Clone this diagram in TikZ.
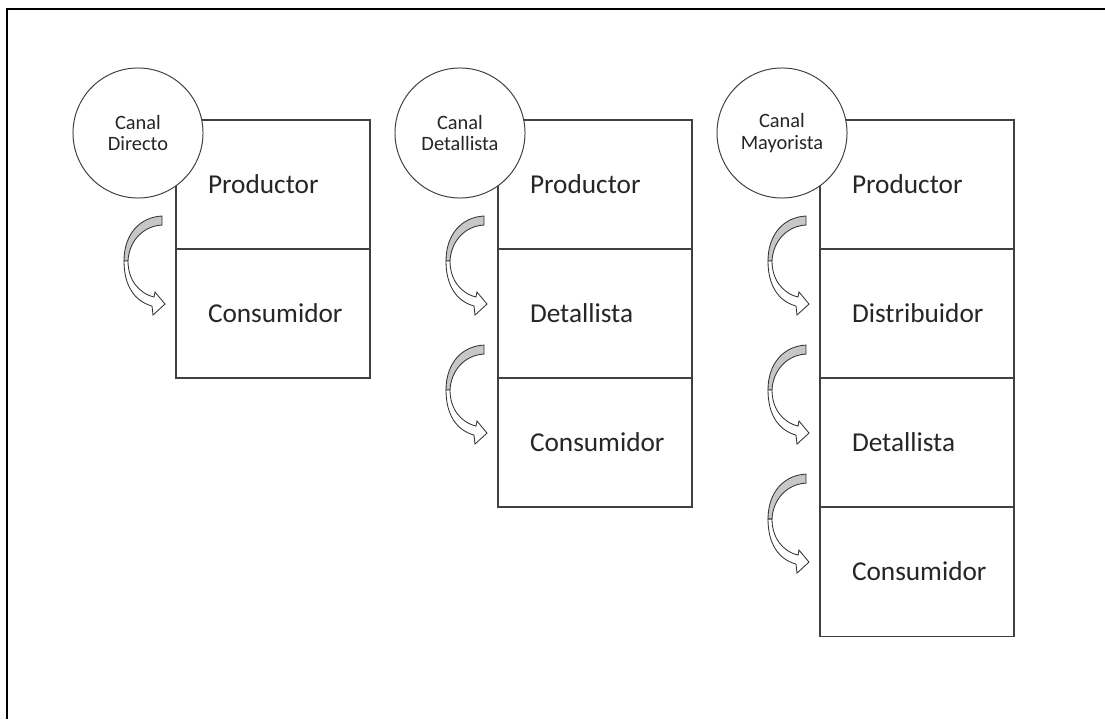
\documentclass[tikz,border=0pt]{standalone}
\usepackage{fontspec}
\setmainfont{Carlito}
\usetikzlibrary{positioning}

\begin{document}
\begin{tikzpicture}[x=0.025cm, y=0.025cm,
		celda/.style={draw=black!75, line width=0.9pt, fill=white, text=black!85, outer sep=0pt,
			minimum width=4.85cm, minimum height=3.225cm, text width=3.25cm, inner xsep=0.8cm,
			align=left, font=\fontsize{19.4}{23}\selectfont},
		canal/.style={circle, draw=black!75, line width=0.7pt, fill=white, text=black!85,
			minimum size=3.25cm, inner sep=0pt, align=center, font=\fontsize{14.5}{15.5}\selectfont},
		pics/flecha/.style={code={
			\draw[line width=0.6pt, draw=black!80, fill=black!22] (-14, 33) .. controls (-36, 32) and (-52, 15) .. (-52, -12)
			to (-48, -12) .. controls (-47, 8) and (-33, 23) .. (-14, 24) to cycle;
			\draw[line width=0.6pt, draw=black!80, fill=white] (-52, -12) .. controls (-52, -36) and (-42, -52) .. (-24, -57)
			to (-23, -66) to (-11, -55) to (-21, -43) to (-22, -48)
			.. controls (-38, -44) and (-48, -30) .. (-48, -12) to cycle;
		}}]
		\useasboundingbox (0, 0) rectangle (1105, 719);
		\draw[line width=1.4pt] (7, 0) to (7, 710) to (1105, 710);

		% canal directo
		\node[celda, anchor=north west] (dir1) at (176, 599) {Productor};
		\node[celda, below=0pt of dir1] (dir2) {Consumidor};
		\node[canal] (cdir) at (138, 586) {Canal\\Directo};
		\pic at (dir1.south west) {flecha};

		% canal detallista
		\node[celda, anchor=north west] (det1) at (498, 599) {Productor};
		\node[celda, below=0pt of det1] (det2) {Detallista};
		\node[celda, below=0pt of det2] (det3) {Consumidor};
		\node[canal] (cdet) at (460, 586) {Canal\\Detallista};
		\pic at (det1.south west) {flecha};
		\pic at (det2.south west) {flecha};

		% canal mayorista
		\node[celda, anchor=north west] (may1) at (820, 599) {Productor};
		\node[celda, below=0pt of may1] (may2) {Distribuidor};
		\node[celda, below=0pt of may2] (may3) {Detallista};
		\node[celda, below=0pt of may3] (may4) {Consumidor};
		\node[canal] (cmay) at (782, 586) {Canal\\Mayorista};
		\pic at (may1.south west) {flecha};
		\pic at (may2.south west) {flecha};
		\pic at (may3.south west) {flecha};
	\end{tikzpicture}
\end{document}
